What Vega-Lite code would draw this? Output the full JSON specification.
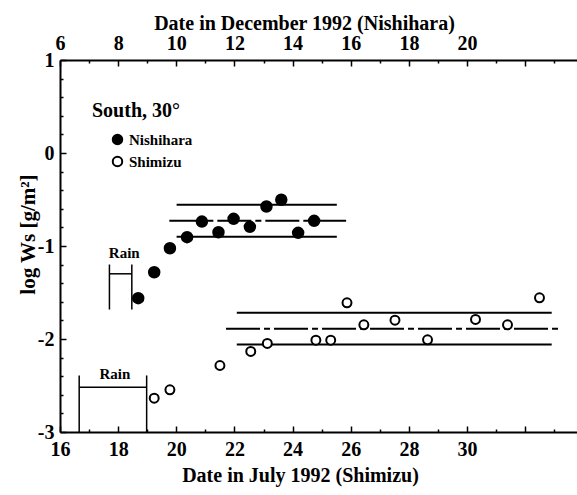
{
  "$schema": "https://vega.github.io/schema/vega-lite/v6.json",
  "width": 517,
  "height": 372,
  "autosize": {"type": "none"},
  "padding": {"left": 60, "top": 60, "right": 0, "bottom": 63},
  "config": {
    "view": {"stroke": null},
    "font": "Liberation Serif",
    "axis": {
      "domainColor": "black", "domainWidth": 2, "tickColor": "black", "tickWidth": 1.5,
      "labelColor": "black", "titleColor": "black",
      "labelFont": "Liberation Serif", "titleFont": "Liberation Serif",
      "labelFontSize": 20, "titleFontSize": 20,
      "labelFontWeight": "bold", "titleFontWeight": "bold",
      "grid": false, "labelOverlap": false, "labelFlush": false
    }
  },
  "encoding": {
    "y": {
      "field": "y", "type": "quantitative",
      "scale": {"domain": [-3, 1], "nice": false, "zero": false},
      "axis": {
        "title": "log Ws [g/m²]",
        "titleFontSize": 21,
        "titleY": 174,
        "values": [-3, -2.8, -2.6, -2.4, -2.2, -2, -1.8, -1.6, -1.4, -1.2, -1, -0.8, -0.6, -0.4, -0.2, 0, 0.2, 0.4, 0.6, 0.8, 1],
        "labelExpr": "abs(datum.value - round(datum.value)) < 0.01 ? '' + round(datum.value) : ''",
        "tickSize": {"condition": {"test": "abs(datum.value - round(datum.value)) < 0.01", "value": -6}, "value": -3},
        "labelPadding": 12,
        "titlePadding": -1
      }
    }
  },
  "layer": [
    {
      "encoding": {
        "x": {
          "field": "x", "type": "quantitative",
          "scale": {"domain": [6, 23.78], "nice": false, "zero": false},
          "axis": {
            "orient": "top",
            "title": "Date in December 1992 (Nishihara)",
            "values": [6, 7, 8, 9, 10, 11, 12, 13, 14, 15, 16, 17, 18, 19, 20, 21, 22, 23],
            "labelExpr": "datum.value % 2 == 0 && datum.value <= 20 ? '' + datum.value : ''",
            "tickSize": {"condition": {"test": "datum.value % 2 == 0", "value": -6}, "value": -3},
            "labelPadding": 13,
            "titlePadding": -3,
            "titleX": 244
          }
        }
      },
      "layer": [
        {
          "data": {"values": [
            {"kind": "sd", "x": 10.01, "x2": 15.52, "y": -0.557},
            {"kind": "mean", "x": 9.76, "x2": 15.84, "y": -0.729},
            {"kind": "sd", "x": 10.01, "x2": 15.52, "y": -0.901}
          ]},
          "mark": {"type": "rule", "color": "black", "strokeWidth": 2},
          "encoding": {
            "x2": {"field": "x2"},
            "strokeDash": {"field": "kind", "type": "nominal", "scale": {"domain": ["sd", "mean"], "range": [[1, 0], [34, 4, 6, 4]]}, "legend": null}
          }
        },
        {
          "data": {"values": [
            {"x": 7.70, "x2": 7.70, "y": -1.199, "y2": -1.683},
            {"x": 8.47, "x2": 8.47, "y": -1.199, "y2": -1.683},
            {"x": 7.70, "x2": 8.47, "y": -1.299, "y2": -1.299}
          ]},
          "mark": {"type": "rule", "color": "black", "strokeWidth": 1.5},
          "encoding": {"x2": {"field": "x2"}, "y2": {"field": "y2"}}
        },
        {
          "data": {"values": [{"x": 8.21, "y": -1.075, "label": "Rain"}]},
          "mark": {"type": "text", "font": "Liberation Serif", "fontWeight": "bold", "fontSize": 15, "color": "black", "baseline": "middle", "align": "center"},
          "encoding": {"text": {"field": "label"}}
        },
        {
          "data": {"values": [
            {"site": "Nishihara", "x": 8.69, "y": -1.561},
            {"site": "Nishihara", "x": 9.24, "y": -1.282},
            {"site": "Nishihara", "x": 9.78, "y": -1.024},
            {"site": "Nishihara", "x": 10.37, "y": -0.905},
            {"site": "Nishihara", "x": 10.88, "y": -0.737},
            {"site": "Nishihara", "x": 11.45, "y": -0.852},
            {"site": "Nishihara", "x": 11.97, "y": -0.708},
            {"site": "Nishihara", "x": 12.53, "y": -0.794},
            {"site": "Nishihara", "x": 13.10, "y": -0.575},
            {"site": "Nishihara", "x": 13.61, "y": -0.503},
            {"site": "Nishihara", "x": 14.19, "y": -0.858},
            {"site": "Nishihara", "x": 14.74, "y": -0.729}
          ]},
          "mark": {"type": "point", "filled": true, "size": 110, "stroke": "black", "strokeWidth": 2, "opacity": 1},
          "encoding": {
            "fill": {
              "field": "site", "type": "nominal",
              "scale": {"domain": ["Nishihara", "Shimizu"], "range": ["black", "white"]},
              "legend": {
                "orient": "none", "legendX": 32, "legendY": 41, "padding": 0,
                "title": "South, 30°", "titleFont": "Liberation Serif", "titleFontSize": 20, "titleFontWeight": "bold", "titleColor": "black", "titlePadding": 11,
                "labelFont": "Liberation Serif", "labelFontSize": 15, "labelFontWeight": "bold", "labelColor": "black",
                "symbolType": "circle", "symbolSize": 90, "symbolStrokeColor": "black", "symbolStrokeWidth": 2,
                "symbolOffset": 18, "labelOffset": 4, "rowPadding": 3
              }
            }
          }
        }
      ]
    },
    {
      "encoding": {
        "x": {
          "field": "x", "type": "quantitative",
          "scale": {"domain": [16, 33.78], "nice": false, "zero": false},
          "axis": {
            "orient": "bottom",
            "title": "Date in July 1992 (Shimizu)",
            "values": [16, 17, 18, 19, 20, 21, 22, 23, 24, 25, 26, 27, 28, 29, 30, 31, 32, 33],
            "labelExpr": "datum.value % 2 == 0 && datum.value <= 30 ? '' + datum.value : ''",
            "tickSize": {"condition": {"test": "datum.value % 2 == 0", "value": -6}, "value": -3},
            "labelPadding": 13,
            "titlePadding": 3,
            "titleX": 240
          }
        }
      },
      "layer": [
        {
          "data": {"values": [
            {"kind": "sd", "x": 22.08, "x2": 32.91, "y": -1.718},
            {"kind": "mean", "x": 21.71, "x2": 33.20, "y": -1.890},
            {"kind": "sd", "x": 22.08, "x2": 32.91, "y": -2.059}
          ]},
          "mark": {"type": "rule", "color": "black", "strokeWidth": 2},
          "encoding": {
            "x2": {"field": "x2"},
            "strokeDash": {"field": "kind", "type": "nominal", "scale": {"domain": ["sd", "mean"], "range": [[1, 0], [34, 4, 6, 4]]}, "legend": null}
          }
        },
        {
          "data": {"values": [
            {"x": 16.66, "x2": 16.66, "y": -2.392, "y2": -3},
            {"x": 18.98, "x2": 18.98, "y": -2.392, "y2": -3},
            {"x": 16.66, "x2": 18.98, "y": -2.518, "y2": -2.518}
          ]},
          "mark": {"type": "rule", "color": "black", "strokeWidth": 1.5},
          "encoding": {"x2": {"field": "x2"}, "y2": {"field": "y2"}}
        },
        {
          "data": {"values": [{"x": 17.89, "y": -2.374, "label": "Rain"}]},
          "mark": {"type": "text", "font": "Liberation Serif", "fontWeight": "bold", "fontSize": 15, "color": "black", "baseline": "middle", "align": "center"},
          "encoding": {"text": {"field": "label"}}
        },
        {
          "data": {"values": [
            {"site": "Shimizu", "x": 19.24, "y": -2.637},
            {"site": "Shimizu", "x": 19.78, "y": -2.546},
            {"site": "Shimizu", "x": 21.50, "y": -2.285},
            {"site": "Shimizu", "x": 22.56, "y": -2.134},
            {"site": "Shimizu", "x": 23.13, "y": -2.048},
            {"site": "Shimizu", "x": 24.80, "y": -2.013},
            {"site": "Shimizu", "x": 25.31, "y": -2.013},
            {"site": "Shimizu", "x": 25.87, "y": -1.611},
            {"site": "Shimizu", "x": 26.45, "y": -1.847},
            {"site": "Shimizu", "x": 27.52, "y": -1.798},
            {"site": "Shimizu", "x": 28.64, "y": -2.009},
            {"site": "Shimizu", "x": 30.29, "y": -1.790},
            {"site": "Shimizu", "x": 31.39, "y": -1.847},
            {"site": "Shimizu", "x": 32.49, "y": -1.557}
          ]},
          "mark": {"type": "point", "filled": true, "size": 80, "stroke": "black", "strokeWidth": 2, "opacity": 1},
          "encoding": {
            "fill": {"field": "site", "type": "nominal"}
          }
        }
      ]
    }
  ],
  "resolve": {"scale": {"x": "independent"}, "axis": {"x": "independent"}}
}
